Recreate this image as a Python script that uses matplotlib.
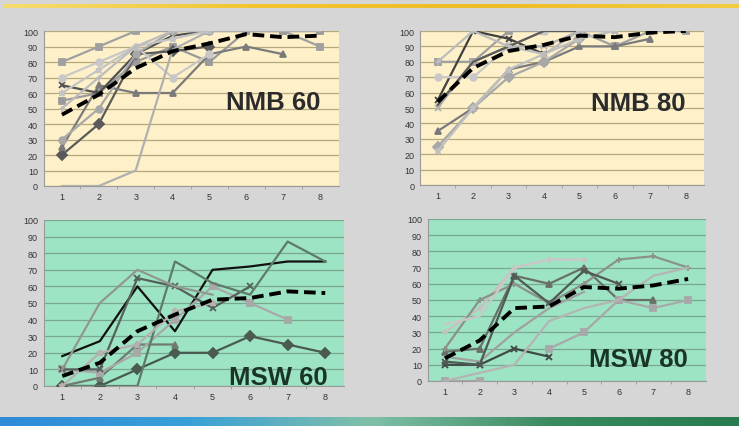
import numpy as np
import matplotlib
matplotlib.use('Agg')
import matplotlib.pyplot as plt
from matplotlib.colors import LinearSegmentedColormap

plt.rcParams['font.family'] = ['Liberation Sans', 'DejaVu Sans']

# trials on x axis
trials = [1, 2, 3, 4, 5, 6, 7, 8]
yticks = [0, 10, 20, 30, 40, 50, 60, 70, 80, 90, 100]

# NMB 60 - individual curves (None = no value) and mean
nmb60_series = [
    [80, 90, 100, 100, 100, 100, 100, 90],
    [55, 60, 80, 90, 80, 100, 100, 100],
    [20, 40, 85, 87, 90, None, None, None],
    [25, 65, 60, 60, 85, 90, 85, None],
    [65, 60, 85, 97, 100, None, None, None],
    [70, 80, 90, 70, 85, None, None, None],
    [30, 50, 85, 100, 100, None, None, None],
    [0, 0, 10, 88, 100, 100, 100, 100],
    [60, 75, 90, 95, 100, None, None, None],
    [50, 70, 90, 100, 100, None, None, None],
]
nmb60_mean = [46, 59, 76, 87, 92, 98, 96, 97]

# NMB 80
nmb80_series = [
    [80, 80, 100, 100, 100, 90, 100, 100],
    [55, 100, 95, 85, None, None, None, None],
    [35, 50, 75, 80, 90, 90, 95, None],
    [70, 70, 90, 100, 100, None, None, None],
    [25, 50, 70, 80, 95, None, None, None],
    [22, 50, 75, 85, 95, 100, None, None],
    [50, 80, 90, 90, 100, 100, None, None],
    [52, 80, 90, 100, 100, None, None, None],
    [80, 100, 90, 85, 100, 100, None, None],
]
nmb80_mean = [54, 76, 87, 91, 97, 96, 99, 100]

# MSW 60
msw60_series = [
    [18, 27, 60, 33, 70, 72, 75, 75],
    [0, 0, 10, 20, 20, 30, 25, 20],
    [0, 5, 25, 25, None, None, None, None],
    [10, 8, 20, 40, 60, 50, 40, None],
    [10, 10, 65, 60, 47, 60, None, None],
    [0, 0, 0, 75, 62, 55, 87, 75],
    [10, 50, 70, 60, 55, None, None, None],
    [0, 20, 25, 45, 50, None, None, None],
]
msw60_mean = [6, 14, 33, 43, 52, 53, 57, 56]

# MSW 80
msw80_series = [
    [10, 10, 20, 15, None, None, None, None],
    [18, 20, 65, 60, 70, 50, 50, None],
    [0, 0, None, 20, 30, 50, 45, 50],
    [30, 45, 70, 75, 75, None, None, None],
    [20, 50, 60, 48, 60, 75, 77, 70],
    [0, 5, 10, 37, 45, 50, 65, 70],
    [15, 12, 30, 45, 55, None, None, None],
    [12, 10, 65, 48, 68, 60, None, None],
    [35, 40, 70, 75, 75, None, None, None],
]
msw80_mean = [14, 25, 45, 46, 58, 57, 59, 63]

nmb60_styles = [
    ('#a0a0a0', 's'), ('#9a9a9a', 's'), ('#5a5a5a', 'D'), ('#7a7a7a', '^'),
    ('#505050', 'x'), ('#c8c8c8', 'o'), ('#a8a8a8', 'o'), ('#b0b0b0', None),
    ('#c4c4c4', '*'), ('#bcbcbc', '+'),
]
nmb80_styles = [
    ('#a0a0a0', 's'), ('#404040', 'x'), ('#7a7a7a', '^'), ('#c8c8c8', 'o'),
    ('#a8a8a8', 'D'), ('#c0c0c0', '*'), ('#b0b0b0', 'x'), ('#5a5a5a', None),
    ('#bcbcbc', '+'),
]
msw60_styles = [
    ('#111111', None), ('#4a5a50', 'D'), ('#707a70', '^'), ('#a8a8a8', 's'),
    ('#56605a', 'x'), ('#5e7a68', None), ('#909890', None), ('#b8b0b0', '*'),
]
msw80_styles = [
    ('#404a44', 'x'), ('#687068', '^'), ('#a8a8a8', 's'), ('#c8c0c0', '+'),
    ('#8a928a', '+'), ('#b4b4b4', None), ('#a0a0a0', None), ('#505a54', 'x'),
    ('#c8c8c8', None),
]

W, H = 739, 427
fig = plt.figure(figsize=(W / 100, H / 100), dpi=100)
fig.patch.set_facecolor('#d6d6d6')


def px_axes(left, right, top, bottom):
    return fig.add_axes([left / W, (H - bottom) / H, (right - left) / W, (bottom - top) / H])


# decorative bands
top = px_axes(4, 739, 5, 9)
top.imshow(np.linspace(0, 1, 200)[None, :], aspect='auto',
           cmap=LinearSegmentedColormap.from_list('g', ['#f6dc70', '#f2c530', '#eebc28', '#f4cc40']))
top.axis('off')
bot = px_axes(0, 739, 418, 427)
bot.imshow(np.linspace(0, 1, 200)[None, :], aspect='auto',
           cmap=LinearSegmentedColormap.from_list('b', ['#2f8ad8', '#38a0d8', '#80c0a8', '#3a8a60', '#2a7a50']))
bot.axis('off')


def panel(rect, series, sty, mean, bg, grid, label, label_color, label_xy):
    ax = px_axes(*rect)
    ax.set_facecolor(bg)
    for vals, (c, m) in zip(series, sty):
        y = np.array(vals, dtype=float)
        ax.plot(trials, y, color=c, lw=1.6, marker=m, ms=4.8, mew=1.3, zorder=3)
    ax.plot(trials, mean, color='black', lw=2.8, ls=(0, (3, 1.5)), zorder=5)
    ax.set_xlim(0.5, 8.5)
    ax.set_ylim(0, 100)
    ax.set_yticks(yticks)
    ax.set_xticks(trials)
    ax.set_xticks([1.5, 2.5, 3.5, 4.5, 5.5, 6.5, 7.5], minor=True)
    ax.grid(axis='y', color=grid, lw=0.9, zorder=1)
    ax.set_axisbelow(True)
    ax.tick_params(axis='both', labelsize=6.5, colors='#333333', length=0, pad=4)
    ax.tick_params(axis='x', which='minor', length=2.5, color='#999999')
    for s in ['top', 'right']:
        ax.spines[s].set_visible(False)
    for s in ['left', 'bottom']:
        ax.spines[s].set_color('#9a9a9a')
        ax.spines[s].set_linewidth(0.8)
    ax.text(label_xy[0], label_xy[1], label, transform=ax.transAxes, ha='right', va='baseline',
            fontsize=18.5, fontweight='bold', color=label_color, zorder=6)
    return ax


panel((43.5, 338.5, 32, 187), nmb60_series, nmb60_styles, nmb60_mean, '#fef1c9', '#b5a97e',
      'NMB 60', '#2b2b2b', (0.94, 0.5))
panel((420, 703.5, 32, 186), nmb80_series, nmb80_styles, nmb80_mean, '#fef1c9', '#b5a97e',
      'NMB 80', '#2b2b2b', (0.935, 0.49))
panel((43.5, 344, 221, 387), msw60_series, msw60_styles, msw60_mean, '#9de4c4', '#7aa88e',
      'MSW 60', '#1a3528', (0.945, 0.01))
panel((427.5, 705.5, 220, 382), msw80_series, msw80_styles, msw80_mean, '#9de4c4', '#7aa88e',
      'MSW 80', '#1a3528', (0.935, 0.09))

fig.savefig('out.png', dpi=100, facecolor=fig.get_facecolor())
